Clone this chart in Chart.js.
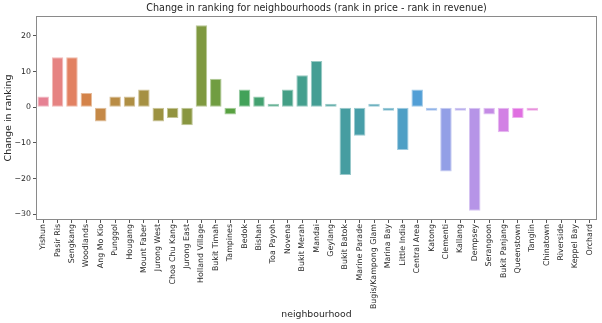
<!DOCTYPE html>
<html>
<head>
<meta charset="utf-8">
<script src="https://cdn.jsdelivr.net/npm/chart.js@4.4.1/dist/chart.umd.min.js"></script>
<style>
html,body{margin:0;padding:0;background:#fff;}
#wrap{width:602px;height:323px;position:relative;}
</style>
</head>
<body>
<div id="wrap"><canvas id="c" width="602" height="323"></canvas></div>
<script>
const categories = ["Yishun","Pasir Ris","Sengkang","Woodlands","Ang Mo Kio","Punggol","Hougang","Mount Faber","Jurong West","Choa Chu Kang","Jurong East","Holland Village","Bukit Timah","Tampines","Bedok","Bishan","Toa Payoh","Novena","Bukit Merah","Mandai","Geylang","Bukit Batok","Marine Parade","Bugis/Kampong Glam","Marina Bay","Little India","Central Area","Katong","Clementi","Kallang","Dempsey","Serangoon","Bukit Panjang","Queenstown","Tanglin","Chinatown","Riverside","Keppel Bay","Orchard"];
const rankChange = [3,14,14,4,-4,3,3,5,-4,-3,-5,23,8,-2,5,3,1,5,9,13,1,-19,-8,1,-1,-12,5,-1,-18,-1,-29,-2,-7,-3,-1,0,0,0,0];
const yTicks = [-30,-20,-10,0,10,20];
const chartTitle = 'Change in ranking for neighbourhoods (rank in price - rank in revenue)';

// seaborn-style husl palette (style only)
const M=[[3.2406,-1.5372,-0.4986],[-0.9689,1.8758,0.0415],[0.0557,-0.2040,1.0570]];
function maxChroma(L,H){const hr=H*Math.PI/180,sinH=Math.sin(hr),cosH=Math.cos(hr);
 const sub1=Math.pow(L+16,3)/1560896,sub2=sub1>0.008856?sub1:L/903.3;let res=Infinity;
 for(const [m1,m2,m3] of M){const top=(0.99915*m1+1.05122*m2+1.14460*m3)*sub2;
  const rb=0.86330*m3-0.17266*m2, lb=0.12949*m3-0.38848*m1;const bottom=(rb*sinH+lb*cosH)*sub2;
  for(const t of [0,1]){const C=L*(top-1.05122*t)/(bottom+0.17266*sinH*t);if(C>0&&C<res)res=C;}}
 return res;}
function fromLin(c){return c<=0.0031308?12.92*c:1.055*Math.pow(c,1/2.4)-0.055;}
function husl(H,S,L){const C=maxChroma(L,H)/100*S;const hr=H*Math.PI/180;const U=Math.cos(hr)*C,V=Math.sin(hr)*C;
 const t=(L+16)/116;const Y=Math.pow(t,3)>0.008856?Math.pow(t,3):(116*t-16)/903.3;
 const vu=U/(13*L)+0.19784, vv=V/(13*L)+0.46834;
 const X=-(9*Y*vu)/((vu-4)*vv-vu*vv);const Z=(9*Y-15*vv*Y-vv*X)/(3*vv);
 return M.map(r=>Math.min(1,Math.max(0,fromLin(r[0]*X+r[1]*Y+r[2]*Z))));}
function desat([r,g,b],p){const mx=Math.max(r,g,b),mn=Math.min(r,g,b);const l=(mx+mn)/2;if(mx===mn)return [r,g,b];
 let s=l<=0.5?(mx-mn)/(mx+mn):(mx-mn)/(2-mx-mn);const d=mx-mn;let h;
 const rc=(mx-r)/d,gc=(mx-g)/d,bc=(mx-b)/d;
 if(r===mx)h=bc-gc;else if(g===mx)h=2+rc-bc;else h=4+gc-rc;h=((h/6)%1+1)%1;
 s*=p;const m2=l<=0.5?l*(1+s):l+s-l*s,m1=2*l-m2;
 const v=(hh)=>{hh=((hh%1)+1)%1;if(hh<1/6)return m1+(m2-m1)*hh*6;if(hh<0.5)return m2;if(hh<2/3)return m1+(m2-m1)*(2/3-hh)*6;return m1;};
 return [v(h+1/3),v(h),v(h-1/3)];}
const n=categories.length;
const barColors=[],edgeColors=[];
for(let i=0;i<n;i++){let h=(i/n+0.01)%1*359;const rgb=desat(husl(h,0.9*99,0.65*99),0.75);
 const c=rgb.map(x=>Math.round(x*255));barColors.push(`rgb(${c[0]},${c[1]},${c[2]})`);
 const e=c.map(x=>Math.round(x+(255-x)*0.45));edgeColors.push(`rgb(${e[0]},${e[1]},${e[2]})`);}

const FONT='DejaVu Sans';
const frame={id:'frame',afterDraw(ch){const a=ch.chartArea,ctx=ch.ctx;ctx.save();ctx.strokeStyle='#8a8a8a';ctx.lineWidth=1;
 ctx.strokeRect(Math.round(a.left)+0.5,Math.round(a.top)+0.5,Math.round(a.right-a.left)-1,Math.round(a.bottom-a.top)-1);
 ctx.fillStyle='#262626';ctx.font='9.6px "'+FONT+'"';ctx.textAlign='center';ctx.textBaseline='middle';
 ctx.fillText(chartTitle,(a.left+a.right)/2,8);ctx.restore();}};

new Chart(document.getElementById('c'),{
 type:'bar',
 data:{labels:categories,datasets:[{data:rankChange,backgroundColor:barColors,borderColor:edgeColors,borderWidth:1,borderSkipped:false,
  categoryPercentage:1.0,barPercentage:0.8}]},
 options:{responsive:false,animation:false,devicePixelRatio:1,
  layout:{padding:{left:0,right:5,top:16,bottom:0}},
  plugins:{legend:{display:false},tooltip:{enabled:false},title:{display:false}},
  scales:{
   x:{grid:{display:true,offset:false,drawOnChartArea:false,drawTicks:true,tickLength:3,color:'#555'},
    border:{display:false},
    ticks:{autoSkip:false,maxRotation:90,minRotation:90,padding:1,color:'#262626',font:{family:FONT,size:7.9}},
    title:{display:true,text:'neighbourhood',color:'#262626',font:{family:FONT,size:9.3},padding:{top:0,bottom:3}},
    afterFit(s){s.height=103;}},
   y:{min:-31.6,max:25.6,
    afterBuildTicks(s){s.ticks=yTicks.map(v=>({value:v}));},
    grid:{display:true,drawOnChartArea:false,drawTicks:true,tickLength:3,color:'#555'},
    border:{display:false},
    ticks:{padding:2,color:'#262626',font:{family:FONT,size:7.8},callback:v=>String(v).replace('-','\u2212')},
    title:{display:true,text:'Change in ranking',color:'#262626',font:{family:FONT,size:9.5},padding:{top:3,bottom:0}},
    afterFit(s){s.width=36;}}
  }},
 plugins:[frame]
});
</script>
</body>
</html>
